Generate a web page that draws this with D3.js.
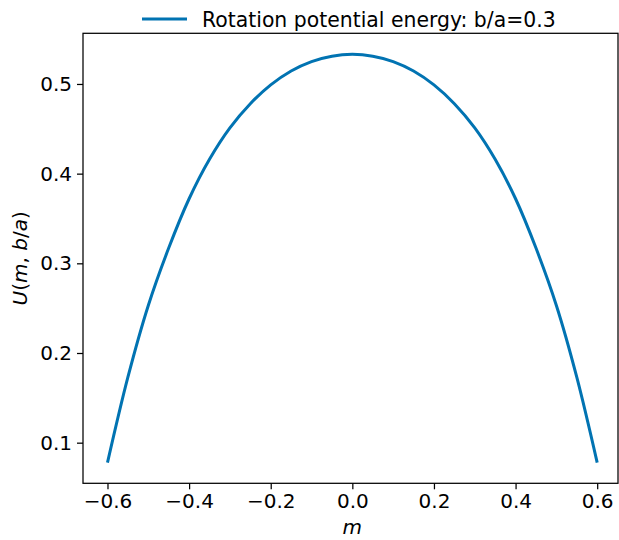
<!DOCTYPE html>
<html>
<head>
<meta charset="utf-8">
<script src="https://cdn.jsdelivr.net/npm/d3@7"></script>
<style>
  html, body { margin: 0; padding: 0; background: #fff; }
  svg { display: block; }
  text { font-family: "DejaVu Sans", sans-serif; fill: #000; }
</style>
</head>
<body>
<svg id="chart" width="619" height="540"></svg>
<script>
// ---- data ----
const mValues = [-0.60, -0.55, -0.50, -0.45, -0.40, -0.35, -0.30, -0.25, -0.20, -0.15, -0.10, -0.05,
                  0.00,  0.05,  0.10,  0.15,  0.20,  0.25,  0.30,  0.35,  0.40,  0.45,  0.50,  0.55, 0.60];
const uValues = [0.0777, 0.173, 0.253, 0.317, 0.372, 0.416, 0.451, 0.478, 0.499, 0.5145, 0.525, 0.531,
                 0.533, 0.531, 0.525, 0.5145, 0.499, 0.478, 0.451, 0.416, 0.372, 0.317, 0.253, 0.173, 0.0777];
const xTicks = [-0.6, -0.4, -0.2, 0.0, 0.2, 0.4, 0.6];
const yTicks = [0.1, 0.2, 0.3, 0.4, 0.5];
const seriesName = "Rotation potential energy: b/a=0.3";

const data = mValues.map((m, i) => ({ m: m, u: uValues[i] }));

const svg = d3.select("#chart");
const pL = 83, pR = 618, pT = 33.3, pB = 483.3;

const x = d3.scaleLinear().domain([-0.66, 0.651]).range([pL, pR]);
const y = d3.scaleLinear().domain([0.0547, 0.5565]).range([pB, pT]);

const fmt = d => d3.format(".1f")(d).replace("-", "\u2212");

// axes
const xAxis = svg.append("g").attr("transform", `translate(0,${pB})`)
  .call(d3.axisBottom(x).tickValues(xTicks).tickFormat(fmt).tickSize(6).tickPadding(5));
const yAxis = svg.append("g").attr("transform", `translate(${pL},0)`)
  .call(d3.axisLeft(y).tickValues(yTicks).tickFormat(fmt).tickSize(6).tickPadding(5));
[xAxis, yAxis].forEach(g => {
  g.select(".domain").remove();
  g.selectAll("line").attr("stroke", "#000").attr("stroke-width", 1.25);
  g.selectAll("text").style("font-size", "20px").style("font-family", "DejaVu Sans, sans-serif").attr("fill", "#000");
});

// frame
svg.append("rect").attr("x", pL).attr("y", pT)
  .attr("width", pR - pL).attr("height", pB - pT)
  .attr("fill", "none").attr("stroke", "#000").attr("stroke-width", 1.25);

// curve
const line = d3.line().x(d => x(d.m)).y(d => y(d.u)).curve(d3.curveCatmullRom.alpha(0.5));
svg.append("path").datum(data)
  .attr("d", line).attr("fill", "none")
  .attr("stroke", "#0173B2").attr("stroke-width", 3).attr("stroke-linecap", "butt");

// axis labels
svg.append("text").attr("x", x(0)).attr("y", 534)
  .attr("text-anchor", "middle").style("font-size", "20px").style("font-style", "italic").text("m");

const yl = svg.append("text").attr("transform", `translate(27,${(pT + pB) / 2}) rotate(-90)`)
  .attr("text-anchor", "middle").style("font-size", "20px");
yl.append("tspan").style("font-style", "italic").text("U");
yl.append("tspan").text("(");
yl.append("tspan").style("font-style", "italic").text("m");
yl.append("tspan").text(", ");
yl.append("tspan").style("font-style", "italic").text("b");
yl.append("tspan").text("/");
yl.append("tspan").style("font-style", "italic").text("a");
yl.append("tspan").text(")");

// legend
const lg = svg.append("g");
lg.append("line").attr("x1", 142).attr("x2", 187).attr("y1", 19).attr("y2", 19)
  .attr("stroke", "#0173B2").attr("stroke-width", 3.2);
lg.append("text").attr("x", 202).attr("y", 27).style("font-size", "20.4px").text(seriesName);
</script>
</body>
</html>
